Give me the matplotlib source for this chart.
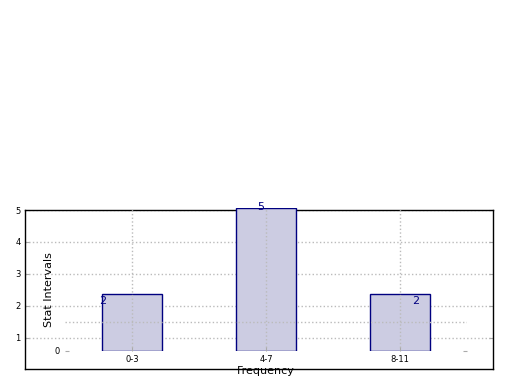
import numpy as np
import matplotlib.pyplot as plt

categories = ['0-3', '4-7', '8-11']
counts = [2, 5, 2]
outer_ticks = [1, 2, 3, 4, 5]

fig = plt.figure(figsize=(5.2, 3.9), dpi=100)

# outer frame with the 1..5 scale
ax1 = fig.add_axes([25/520, 21/390, 468/520, 159/390])
ax1.set_ylim(0.03, 5)
ax1.set_xlim(0, 1)
ax1.set_yticks(outer_ticks)
ax1.set_xticks([])
ax1.tick_params(axis='y', direction='in', length=3, color='#aaaaaa',
                labelsize=6, right=True, pad=3)
ax1.grid(axis='y', color='#bbbbbb', linestyle=':', linewidth=1)
for s in ax1.spines.values():
    s.set_linewidth(1)

# inner axes holding the bars
ax2 = fig.add_axes([65/520, 39/390, 402/520, 143/390])
ax2.patch.set_visible(False)
for s in ax2.spines.values():
    s.set_visible(False)
x = np.arange(len(categories))
ax2.bar(x, counts, width=0.45, color='#cccce2', edgecolor='#000080', linewidth=1)
ax2.set_xlim(-0.5, 2.5)
ax2.set_ylim(0, 5)
ax2.set_xticks(x)
ax2.set_xticklabels(categories)
ax2.set_yticks([0])
ax2.tick_params(axis='both', direction='in', length=3, color='#aaaaaa',
                labelsize=6, right=True)
ax2.tick_params(axis='x', pad=3, top=False)
ax2.grid(axis='x', color='#bbbbbb', linestyle=':', linewidth=1)
ax2.axhline(1, xmin=0, xmax=1, color='#bbbbbb', linestyle=':', linewidth=1)
ax2.set_xlabel('Frequency', fontsize=8, labelpad=1)
ax2.set_ylabel('Stat Intervals', fontsize=8)
ax2.yaxis.set_label_coords(-0.028, 0.43)

label_pos = [(-0.22, 1.75), (0.96, 5.03), (2.12, 1.75)]
for (lx, ly), c in zip(label_pos, counts):
    ax2.text(lx, ly, str(c), color='#000080', fontsize=8,
             ha='center', va='center', clip_on=False)

fig.savefig('out.png', dpi=100)
